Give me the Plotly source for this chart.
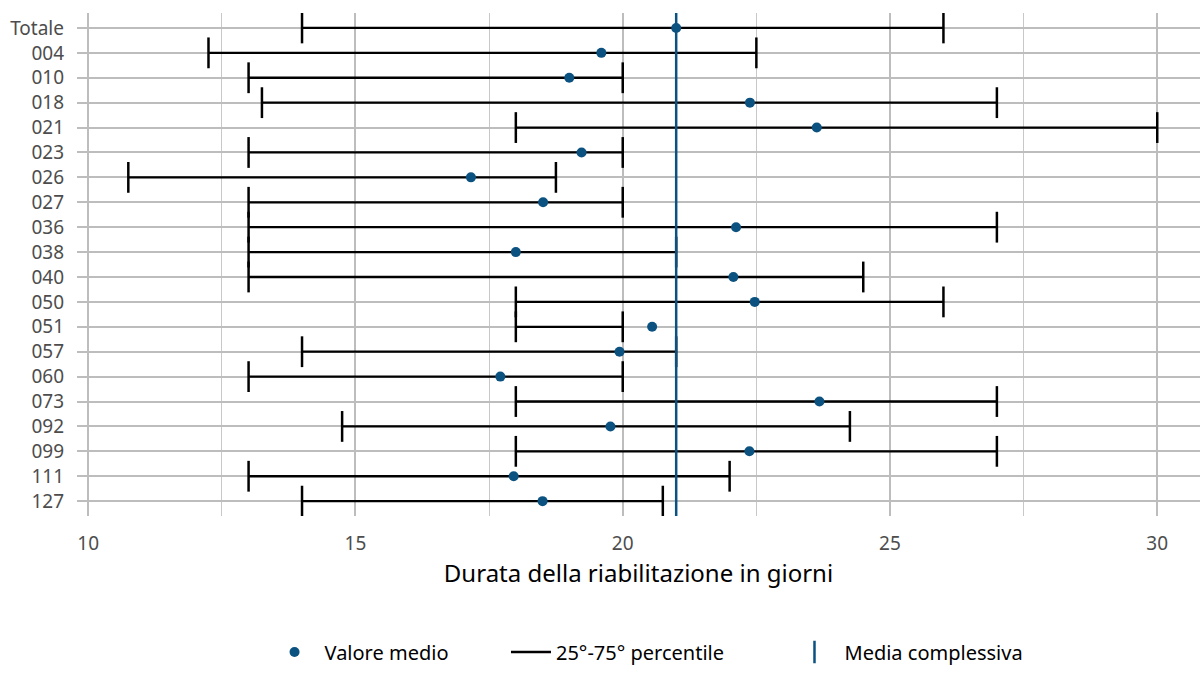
import plotly.graph_objects as go

# Strutture (dall'alto verso il basso)
categories = ["Totale", "004", "010", "018", "021", "023", "026", "027", "036", "038",
              "040", "050", "051", "057", "060", "073", "092", "099", "111", "127"]
# Valore medio della durata (giorni)
mean_values = [21.0, 19.6, 19.0, 22.38, 23.63, 19.23, 17.16, 18.51, 22.12, 18.0,
               22.07, 22.47, 20.55, 19.94, 17.71, 23.68, 19.77, 22.37, 17.96, 18.5]
# 25° percentile
p25 = [14.0, 12.25, 13.0, 13.25, 18.0, 13.0, 10.75, 13.0, 13.0, 13.0,
       13.0, 18.0, 18.0, 14.0, 13.0, 18.0, 14.75, 18.0, 13.0, 14.0]
# 75° percentile
p75 = [26.0, 22.5, 20.0, 27.0, 30.0, 20.0, 18.75, 20.0, 27.0, 21.0,
       24.5, 26.0, 20.0, 21.0, 20.0, 27.0, 24.25, 27.0, 22.0, 20.75]
overall_mean = 21.0

x_ticks = [10, 15, 20, 25, 30]

BLUE = "#0b5281"
FONT = "Noto Sans"

ypos = list(range(len(categories)))

seg_x, seg_y = [], []
for i, (lo, hi) in enumerate(zip(p25, p75)):
    seg_x += [lo, hi, None]
    seg_y += [i, i, None]

cap_x, cap_y = [], []
for i, (lo, hi) in enumerate(zip(p25, p75)):
    cap_x += [lo, hi]
    cap_y += [i, i]

fig = go.Figure()

# Intervallo 25°-75° percentile
fig.add_trace(go.Scatter(
    x=seg_x, y=seg_y, mode="lines",
    line=dict(color="black", width=2.3),
    name="25°-75° percentile", legend="legend2"))
fig.add_trace(go.Scatter(
    x=cap_x, y=cap_y, mode="markers",
    marker=dict(symbol="line-ns-open", size=22, color="black",
                line=dict(color="black", width=2.5)),
    showlegend=False, hoverinfo="skip"))

# Media complessiva: linea verticale
fig.add_trace(go.Scatter(
    x=[overall_mean, overall_mean], y=[-0.6, len(categories) - 0.4],
    mode="lines", line=dict(color=BLUE, width=2.5),
    showlegend=False, hoverinfo="skip"))

# Valore medio
fig.add_trace(go.Scatter(
    x=mean_values, y=ypos, mode="markers",
    marker=dict(color=BLUE, size=10),
    name="Valore medio", legend="legend"))

# Voce di legenda per la media complessiva
fig.add_trace(go.Scatter(
    x=[None], y=[None], mode="markers",
    marker=dict(symbol="line-ns-open", size=30, color=BLUE,
                line=dict(color=BLUE, width=2.5)),
    name="Media complessiva", legend="legend3"))

legend_common = dict(
    orientation="h", xanchor="left", y=0.0, yanchor="middle",
    font=dict(family=FONT, size=20, color="black"),
    bgcolor="rgba(0,0,0,0)")

fig.update_layout(
    width=1203, height=675,
    margin=dict(l=77, r=3, t=13, b=18),
    plot_bgcolor="white", paper_bgcolor="white",
    font=dict(family=FONT, size=19, color="#4d4d4d"),
    legend=dict(x=0.167, itemwidth=50, **legend_common),
    legend2=dict(x=0.382, itemwidth=40, **legend_common),
    legend3=dict(x=0.63, itemwidth=50, **legend_common),
    showlegend=True,
)

fig.update_xaxes(
    range=[9.79, 30.8], tickvals=x_ticks, ticktext=[str(t) for t in x_ticks],
    showgrid=True, gridcolor="#bdbdbd", gridwidth=2.2,
    minor=dict(dtick=2.5, tick0=10, showgrid=True, gridcolor="#c8c8c8", gridwidth=1.4),
    zeroline=False, showline=False, ticks="", ticklabelstandoff=14,
    tickfont=dict(size=19, color="#4d4d4d"),
    title=dict(text="Durata della riabilitazione in giorni",
               font=dict(size=24, color="black"), standoff=2),
)
fig.update_yaxes(
    domain=[0.2127, 1.0],
    range=[len(categories) - 0.4, -0.6],
    tickvals=ypos, ticktext=categories,
    showgrid=True, gridcolor="#bdbdbd", gridwidth=2.2,
    zeroline=False, showline=False, ticks="", ticklabelstandoff=12,
    tickfont=dict(size=19, color="#4d4d4d"),
)

fig.write_html("out.html")
